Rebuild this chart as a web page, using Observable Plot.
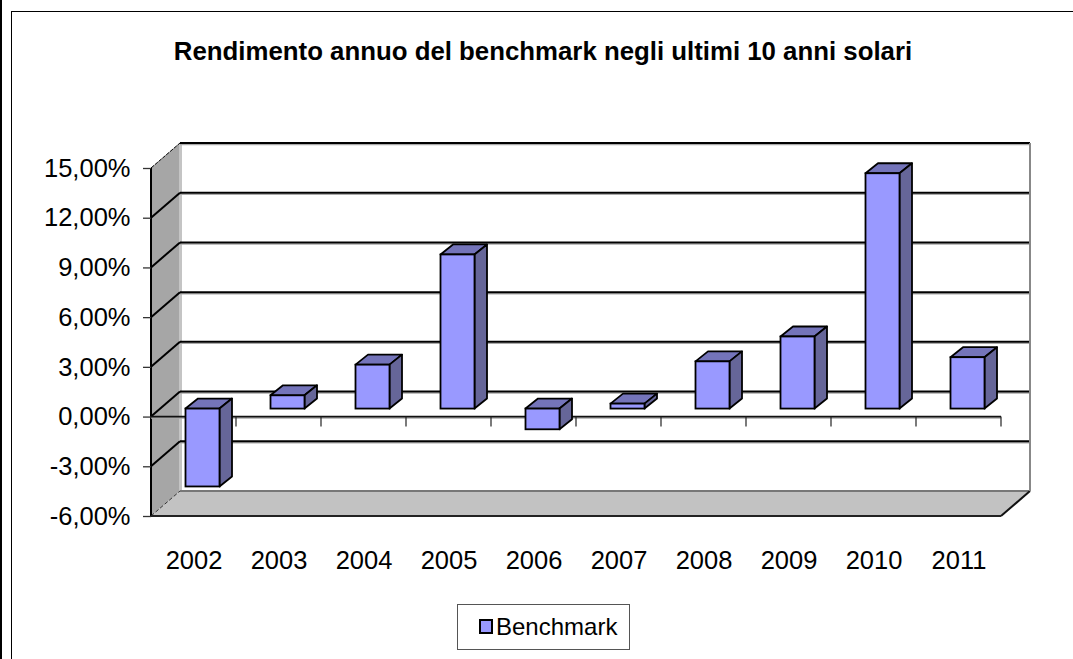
<!DOCTYPE html>
<html><head><meta charset="utf-8">
<script src="https://cdn.jsdelivr.net/npm/d3@7"></script>
<script src="https://cdn.jsdelivr.net/npm/@observablehq/plot@0.6"></script>
<style>
html,body{margin:0;padding:0;background:#fff;overflow:hidden}
#page{position:relative;width:1073px;height:659px;overflow:hidden;font-family:"Liberation Sans",Arial,sans-serif;color:#000}
#frame{position:absolute;left:11px;top:11px;width:1100px;height:700px;border:1.5px solid #000;box-sizing:border-box}
#edge{position:absolute;left:0;top:0;width:2px;height:659px;background:#000}
#title{position:absolute;left:0;width:1086px;top:36px;text-align:center;font-weight:bold;font-size:25px;line-height:30px;white-space:nowrap;transform:scaleX(1.032);transform-origin:543px 0}
#legend{position:absolute;left:457px;top:604px;width:173px;height:46px;box-sizing:border-box;border:1.5px solid #555;background:#fff}
#swatch{position:absolute;left:21px;top:14px;width:14px;height:15px;box-sizing:border-box;background:#9999ff;border:2px solid #000}
#legendText{position:absolute;left:38px;top:6px;font-size:24px;line-height:32px}
svg{position:absolute;left:0;top:0}
</style></head><body>
<div id="page"><div id="edge"></div><div id="frame"></div><div id="chart"></div>
<div id="title">Rendimento annuo del benchmark negli ultimi 10 anni solari</div>
<div id="legend"><div id="swatch"></div><div id="legendText">Benchmark</div></div></div>
<script>
const years = ["2002","2003","2004","2005","2006","2007","2008","2009","2010","2011"];
const benchmark = [-4.7,0.8,2.65,9.3,-1.25,0.3,2.85,4.35,14.2,3.1];
const yTicks = [-6,-3,0,3,6,9,12,15];
const rows = years.map((year,i)=>({year,value:benchmark[i]}));

const ns="http://www.w3.org/2000/svg";
const el=(tag,attrs)=>{const e=document.createElementNS(ns,tag);for(const k in attrs)e.setAttribute(k,attrs[k]);return e;};
const poly=(pts,attrs)=>el("path",{d:"M"+pts.map(p=>p.join(",")).join("L")+"Z",...attrs});
const seg=(x1,y1,x2,y2,stroke,w,extra={})=>el("line",{x1,y1,x2,y2,stroke,"stroke-width":w,...extra});
const DX=29, DY=-25;   // depth of the room
const BDX=9, BDY=-8;   // bars stand part-way into the room
const SDX=12.5, SDY=-10; // depth of a bar

// back wall, left wall, floor, gridlines: positions come from the scales
function room(index,{y},values,{marginLeft:L,width,marginRight:R}){
  const g=el("g",{});
  const X0=L,X1=width-R,top=y(15),bot=y(-6);
  g.append(poly([[X0,top],[X0+DX,top+DY],[X0+DX,bot+DY],[X0,bot]],{fill:"#a6a6a6",stroke:"none"}));
  g.append(poly([[X0,bot],[X0+DX,bot+DY],[X1+DX,bot+DY],[X1,bot]],{fill:"#c2c2c2",stroke:"none"}));
  g.append(seg(X0+DX+.5,top+DY,X0+DX+.5,bot+DY,"#c4c4c4",3));
  for(const t of yTicks){
    const yy=y(t);
    if(t===-6){
      g.append(seg(X0+DX,yy+DY,X1+DX,yy+DY,"#777",2));
      g.append(seg(X0,yy,X0+DX,yy+DY,"#333",1,{"stroke-dasharray":"4 2"}));
      g.append(seg(X1,yy,X1+DX,yy+DY,"#111",2));
    } else {
      g.append(seg(X0+DX,yy+DY+1.5,X1+DX,yy+DY+1.5,"#aaa",1.5));
      g.append(seg(X0+DX,yy+DY,X1+DX,yy+DY,"#000",2));
      g.append(seg(X0,yy,X0+DX,yy+DY,"#000",t===15?1:2,t===15?{"stroke-dasharray":"4 1"}:{}));
    }
  }
  g.append(seg(X1+DX,top+DY,X1+DX,bot+DY,"#888",2));
  g.append(seg(X0,top,X0,bot,"#000",2));
  g.append(seg(X0,bot,X1,bot,"#222",2));
  g.append(seg(X0,y(0)+1.5,X1,y(0)+1.5,"#aaa",1.5));
  g.append(seg(X0,y(0),X1,y(0),"#111",1.8));
  for(let i=1;i<=years.length;i++){
    const xx=X0+(X1-X0)*i/years.length;
    g.append(seg(xx,y(0),xx,y(0)+10,"#222",1.2));
  }
  return g;
}

// front of each bar comes from barY; its top and side are added from the same scales
function faces(index,scales,vals,dims,ctx,next){
  const front=next(index,scales,vals,dims,ctx);
  const g=el("g",{transform:`translate(${BDX},${BDY})`});
  const st={stroke:"#000","stroke-width":1.8,"stroke-linejoin":"round"};
  const bw=scales.x.bandwidth();
  for(const i of index){
    const x1=scales.x(rows[i].year), x2=x1+bw;
    const t=scales.y(Math.max(0,rows[i].value)), b=scales.y(Math.min(0,rows[i].value));
    g.append(poly([[x1,t],[x1+SDX,t+SDY],[x2+SDX,t+SDY],[x2,t]],{fill:"#7474ba",...st}));
    g.append(poly([[x2,t],[x2+SDX,t+SDY],[x2+SDX,b+SDY],[x2,b]],{fill:"#666699",...st}));
  }
  const out=el("g",{});
  out.append(g,front);
  return out;
}

const fmt=d=>d3.format(".2f")(d).replace(".",",").replace("\u2212","-")+"%";

const plot=Plot.plot({
  width:1073,height:659,
  marginLeft:151,marginRight:72,marginTop:168,marginBottom:143,
  style:{background:"transparent",fontFamily:"'Liberation Sans',Arial,sans-serif"},
  x:{domain:years,paddingInner:.6,paddingOuter:.3,align:.5,round:false,label:null},
  y:{domain:[-6,15],label:null},
  marks:[
    room,
    Plot.axisY(yTicks,{tickFormat:fmt,tickSize:8,tickPadding:13,fontSize:25.5,stroke:"#333",strokeWidth:1.3,label:null,color:"#000"}),
    Plot.axisX({tickSize:0,tickPadding:34,fontSize:25.5,label:null,anchor:"bottom"}),
    Plot.barY(rows,{x:"year",y:"value",fill:"#9999ff",stroke:"#000",strokeWidth:1.8,dx:BDX,dy:BDY,render:faces})
  ]
});
document.getElementById("chart").append(plot);
</script></body></html>
